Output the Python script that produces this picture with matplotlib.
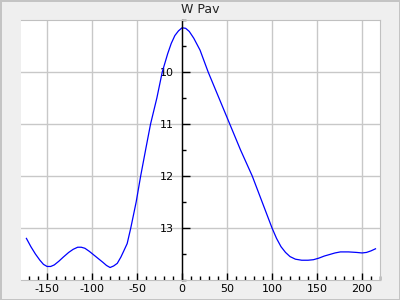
import matplotlib
matplotlib.use('Agg')
import matplotlib.pyplot as plt
from matplotlib.ticker import MultipleLocator

plt.rcParams['axes.unicode_minus'] = False

# phase (days) and visual magnitude
days = [-173, -168, -163, -158, -154, -150, -146, -142, -137, -132, -126,
        -121, -116, -112, -108, -103, -98, -93, -88, -84, -80, -76, -72,
        -68, -65, -61, -57, -51, -46, -40, -35, -28, -22, -16, -12, -8, -4,
        0, 4, 8, 13, 20, 29, 41, 53, 65, 78, 89, 100, 105, 110, 115, 120,
        126, 133, 140, 146, 152, 158, 164, 170, 176, 185, 194, 200, 205,
        210, 215]
mag = [13.20, 13.36, 13.50, 13.62, 13.70, 13.74, 13.74, 13.71, 13.64, 13.56,
       13.47, 13.41, 13.37, 13.37, 13.39, 13.45, 13.52, 13.59, 13.66, 13.72,
       13.76, 13.73, 13.68, 13.56, 13.45, 13.30, 13.00, 12.50, 12.00, 11.45,
       11.00, 10.50, 10.00, 9.65, 9.45, 9.30, 9.21, 9.15, 9.16, 9.22, 9.35,
       9.58, 10.00, 10.50, 11.00, 11.50, 12.00, 12.50, 13.00, 13.20, 13.36,
       13.47, 13.55, 13.60, 13.62, 13.62, 13.61, 13.58, 13.54, 13.51, 13.48,
       13.46, 13.46, 13.47, 13.48, 13.47, 13.44, 13.40]

fig = plt.figure(figsize=(4, 3), dpi=100, facecolor='#efefef',
                 edgecolor='#c4c4c4', linewidth=2)
ax = fig.add_axes([0.0525, 0.0667, 0.8975, 0.8667])
ax.plot(days, mag, color='#0000ff', linewidth=0.9)

ax.set_xlim(-179, 220)
ax.set_ylim(14, 9)
ax.set_title('W Pav', fontsize=9, color='#222222', pad=5)

# y axis drawn through x = 0
ax.spines['left'].set_position(('data', 0))
ax.spines['left'].set_color('black')
ax.spines['left'].set_linewidth(1)
for s in ['top', 'right', 'bottom']:
    ax.spines[s].set_color('#c0c0c0')

ax.xaxis.set_major_locator(MultipleLocator(50))
ax.xaxis.set_minor_locator(MultipleLocator(10))
ax.yaxis.set_minor_locator(MultipleLocator(0.5))
ax.set_yticks([10, 11, 12, 13])

ax.tick_params(axis='x', which='major', direction='in', length=5, width=1,
               labelsize=8, pad=3)
ax.tick_params(axis='x', which='minor', direction='in', length=3, width=1)
ax.tick_params(axis='y', which='major', direction='in', length=6, width=1,
               labelsize=8, pad=6)
ax.tick_params(axis='y', which='minor', direction='in', length=3, width=1)

ax.grid(True, which='major', color='#c8c8c8', linewidth=1)
ax.set_axisbelow(True)

fig.savefig('out.png', dpi=100, facecolor=fig.get_facecolor(),
            edgecolor=fig.get_edgecolor())
